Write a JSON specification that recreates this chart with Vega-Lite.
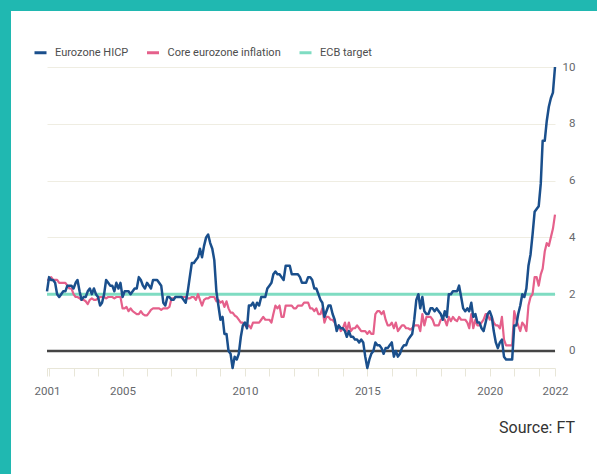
{
  "$schema": "https://vega.github.io/schema/vega-lite/v6.json",
  "padding": 0,
  "background": "white",
  "spacing": 0,
  "bounds": "flush",
  "align": "each",
  "config": {
    "view": {"stroke": null},
    "font": "Roboto",
    "axisX": {"domainColor": "#e8e6d8", "tickColor": "#e8e6d8", "tickSize": 8, "labelPadding": 9, "labelColor": "#66686c", "labelFontSize": 11.5, "labelFont": "Roboto", "grid": false, "labelOverlap": false, "labelFlush": false},
    "axisY": {"grid": true, "gridColor": "#efede2", "domain": false, "ticks": false, "tickSize": 0, "labelPadding": 20, "labelAlign": "right", "labelColor": "#66686c", "labelFontSize": 11.5, "labelFont": "Roboto"}
  },
  "vconcat": [
    {"width": 597, "height": 11, "view": {"fill": "#20b8b1", "stroke": null}, "data": {"values": [{}]}, "mark": {"type": "point", "opacity": 0}},
    {
      "spacing": 36, "bounds": "flush", "align": "each",
      "hconcat": [
        {"width": 11, "height": 463, "view": {"fill": "#20b8b1", "stroke": null}, "data": {"values": [{}]}, "mark": {"type": "point", "opacity": 0}},
        {
          "spacing": 0, "bounds": "flush", "align": "each",
          "vconcat": [
            {"width": 508, "height": 56, "data": {"values": [{}]}, "mark": {"type": "point", "opacity": 0}},
            {
              "width": 508, "height": 301,
              "title": {"text": "Source: FT", "orient": "bottom", "anchor": "end", "font": "Roboto", "fontSize": 16, "fontWeight": "normal", "color": "#333333", "offset": 23},
              "data": {"values": [
{"date":"2001-12","hicp":2.1,"core":2.5},
{"date":"2002-01","hicp":2.6,"core":2.5},{"date":"2002-02","hicp":2.5,"core":2.6},{"date":"2002-03","hicp":2.5,"core":2.5},{"date":"2002-04","hicp":2.4,"core":2.5},{"date":"2002-05","hicp":2.0,"core":2.5},{"date":"2002-06","hicp":1.9,"core":2.4},{"date":"2002-07","hicp":2.0,"core":2.4},{"date":"2002-08","hicp":2.1,"core":2.4},{"date":"2002-09","hicp":2.1,"core":2.4},{"date":"2002-10","hicp":2.3,"core":2.3},{"date":"2002-11","hicp":2.3,"core":2.2},{"date":"2002-12","hicp":2.3,"core":2.2},
{"date":"2003-01","hicp":2.2,"core":2.0},{"date":"2003-02","hicp":2.4,"core":1.9},{"date":"2003-03","hicp":2.5,"core":1.9},{"date":"2003-04","hicp":2.1,"core":1.85},{"date":"2003-05","hicp":1.8,"core":1.8},{"date":"2003-06","hicp":1.9,"core":1.8},{"date":"2003-07","hicp":1.9,"core":1.75},{"date":"2003-08","hicp":2.1,"core":1.65},{"date":"2003-09","hicp":2.2,"core":1.8},{"date":"2003-10","hicp":2.0,"core":1.85},{"date":"2003-11","hicp":2.2,"core":1.8},{"date":"2003-12","hicp":2.0,"core":1.8},
{"date":"2004-01","hicp":1.9,"core":1.85},{"date":"2004-02","hicp":1.6,"core":1.9},{"date":"2004-03","hicp":1.7,"core":1.9},{"date":"2004-04","hicp":2.0,"core":1.9},{"date":"2004-05","hicp":2.5,"core":1.85},{"date":"2004-06","hicp":2.4,"core":1.9},{"date":"2004-07","hicp":2.3,"core":1.9},{"date":"2004-08","hicp":2.3,"core":1.9},{"date":"2004-09","hicp":2.1,"core":1.85},{"date":"2004-10","hicp":2.4,"core":1.9},{"date":"2004-11","hicp":2.2,"core":1.9},{"date":"2004-12","hicp":2.4,"core":1.9},
{"date":"2005-01","hicp":1.9,"core":1.5},{"date":"2005-02","hicp":2.1,"core":1.5},{"date":"2005-03","hicp":2.1,"core":1.55},{"date":"2005-04","hicp":2.1,"core":1.4},{"date":"2005-05","hicp":2.0,"core":1.5},{"date":"2005-06","hicp":2.1,"core":1.4},{"date":"2005-07","hicp":2.2,"core":1.35},{"date":"2005-08","hicp":2.2,"core":1.3},{"date":"2005-09","hicp":2.6,"core":1.3},{"date":"2005-10","hicp":2.5,"core":1.4},{"date":"2005-11","hicp":2.3,"core":1.3},{"date":"2005-12","hicp":2.2,"core":1.25},
{"date":"2006-01","hicp":2.4,"core":1.25},{"date":"2006-02","hicp":2.3,"core":1.35},{"date":"2006-03","hicp":2.2,"core":1.45},{"date":"2006-04","hicp":2.5,"core":1.5},{"date":"2006-05","hicp":2.5,"core":1.5},{"date":"2006-06","hicp":2.5,"core":1.5},{"date":"2006-07","hicp":2.4,"core":1.5},{"date":"2006-08","hicp":2.3,"core":1.45},{"date":"2006-09","hicp":1.7,"core":1.5},{"date":"2006-10","hicp":1.6,"core":1.5},{"date":"2006-11","hicp":1.9,"core":1.5},{"date":"2006-12","hicp":1.9,"core":1.55},
{"date":"2007-01","hicp":1.8,"core":1.85},{"date":"2007-02","hicp":1.8,"core":1.85},{"date":"2007-03","hicp":1.9,"core":1.9},{"date":"2007-04","hicp":1.9,"core":1.9},{"date":"2007-05","hicp":1.9,"core":1.9},{"date":"2007-06","hicp":1.9,"core":1.9},{"date":"2007-07","hicp":1.8,"core":1.9},{"date":"2007-08","hicp":1.7,"core":1.9},{"date":"2007-09","hicp":2.1,"core":1.85},{"date":"2007-10","hicp":2.6,"core":1.85},{"date":"2007-11","hicp":3.1,"core":1.9},{"date":"2007-12","hicp":3.1,"core":1.9},
{"date":"2008-01","hicp":3.2,"core":1.8},{"date":"2008-02","hicp":3.3,"core":2.0},{"date":"2008-03","hicp":3.6,"core":1.8},{"date":"2008-04","hicp":3.3,"core":1.6},{"date":"2008-05","hicp":3.7,"core":1.8},{"date":"2008-06","hicp":4.0,"core":1.85},{"date":"2008-07","hicp":4.1,"core":1.85},{"date":"2008-08","hicp":3.8,"core":1.9},{"date":"2008-09","hicp":3.6,"core":1.9},{"date":"2008-10","hicp":3.2,"core":1.9},{"date":"2008-11","hicp":2.1,"core":1.75},{"date":"2008-12","hicp":1.6,"core":1.8},
{"date":"2009-01","hicp":1.1,"core":1.7},{"date":"2009-02","hicp":1.2,"core":1.75},{"date":"2009-03","hicp":0.6,"core":1.55},{"date":"2009-04","hicp":0.6,"core":1.75},{"date":"2009-05","hicp":0.0,"core":1.5},{"date":"2009-06","hicp":-0.1,"core":1.35},{"date":"2009-07","hicp":-0.6,"core":1.35},{"date":"2009-08","hicp":-0.2,"core":1.25},{"date":"2009-09","hicp":-0.3,"core":1.2},{"date":"2009-10","hicp":-0.1,"core":1.1},{"date":"2009-11","hicp":0.5,"core":1.0},{"date":"2009-12","hicp":0.9,"core":1.0},
{"date":"2010-01","hicp":1.0,"core":0.9},{"date":"2010-02","hicp":0.8,"core":0.85},{"date":"2010-03","hicp":1.6,"core":0.9},{"date":"2010-04","hicp":1.6,"core":0.8},{"date":"2010-05","hicp":1.7,"core":1.0},{"date":"2010-06","hicp":1.5,"core":1.0},{"date":"2010-07","hicp":1.7,"core":1.0},{"date":"2010-08","hicp":1.6,"core":1.0},{"date":"2010-09","hicp":1.9,"core":1.1},{"date":"2010-10","hicp":1.9,"core":1.2},{"date":"2010-11","hicp":1.9,"core":1.1},{"date":"2010-12","hicp":2.2,"core":1.1},
{"date":"2011-01","hicp":2.3,"core":1.1},{"date":"2011-02","hicp":2.4,"core":1.0},{"date":"2011-03","hicp":2.7,"core":1.3},{"date":"2011-04","hicp":2.8,"core":1.6},{"date":"2011-05","hicp":2.7,"core":1.5},{"date":"2011-06","hicp":2.7,"core":1.6},{"date":"2011-07","hicp":2.6,"core":1.2},{"date":"2011-08","hicp":2.5,"core":1.2},{"date":"2011-09","hicp":3.0,"core":1.6},{"date":"2011-10","hicp":3.0,"core":1.6},{"date":"2011-11","hicp":3.0,"core":1.6},{"date":"2011-12","hicp":2.7,"core":1.6},
{"date":"2012-01","hicp":2.7,"core":1.5},{"date":"2012-02","hicp":2.7,"core":1.5},{"date":"2012-03","hicp":2.7,"core":1.6},{"date":"2012-04","hicp":2.6,"core":1.6},{"date":"2012-05","hicp":2.4,"core":1.6},{"date":"2012-06","hicp":2.4,"core":1.7},{"date":"2012-07","hicp":2.4,"core":1.7},{"date":"2012-08","hicp":2.6,"core":1.7},{"date":"2012-09","hicp":2.6,"core":1.5},{"date":"2012-10","hicp":2.5,"core":1.5},{"date":"2012-11","hicp":2.2,"core":1.4},{"date":"2012-12","hicp":2.2,"core":1.5},
{"date":"2013-01","hicp":2.0,"core":1.3},{"date":"2013-02","hicp":1.8,"core":1.3},{"date":"2013-03","hicp":1.7,"core":1.5},{"date":"2013-04","hicp":1.2,"core":1.0},{"date":"2013-05","hicp":1.4,"core":1.2},{"date":"2013-06","hicp":1.6,"core":1.2},{"date":"2013-07","hicp":1.6,"core":1.1},{"date":"2013-08","hicp":1.3,"core":1.1},{"date":"2013-09","hicp":1.1,"core":1.0},{"date":"2013-10","hicp":0.7,"core":0.8},{"date":"2013-11","hicp":0.9,"core":0.9},{"date":"2013-12","hicp":0.8,"core":0.7},
{"date":"2014-01","hicp":0.8,"core":0.8},{"date":"2014-02","hicp":0.7,"core":1.0},{"date":"2014-03","hicp":0.5,"core":0.7},{"date":"2014-04","hicp":0.7,"core":1.0},{"date":"2014-05","hicp":0.5,"core":0.7},{"date":"2014-06","hicp":0.5,"core":0.8},{"date":"2014-07","hicp":0.4,"core":0.8},{"date":"2014-08","hicp":0.4,"core":0.9},{"date":"2014-09","hicp":0.3,"core":0.8},{"date":"2014-10","hicp":0.4,"core":0.7},{"date":"2014-11","hicp":0.3,"core":0.7},{"date":"2014-12","hicp":-0.2,"core":0.7},
{"date":"2015-01","hicp":-0.6,"core":0.6},{"date":"2015-02","hicp":-0.3,"core":0.7},{"date":"2015-03","hicp":-0.1,"core":0.6},{"date":"2015-04","hicp":0.0,"core":0.6},{"date":"2015-05","hicp":0.3,"core":1.3},{"date":"2015-06","hicp":0.2,"core":1.4},{"date":"2015-07","hicp":0.2,"core":1.4},{"date":"2015-08","hicp":0.1,"core":1.3},{"date":"2015-09","hicp":-0.1,"core":1.4},{"date":"2015-10","hicp":0.1,"core":1.1},{"date":"2015-11","hicp":0.1,"core":0.9},{"date":"2015-12","hicp":0.2,"core":0.9},
{"date":"2016-01","hicp":0.3,"core":1.0},{"date":"2016-02","hicp":-0.2,"core":0.8},{"date":"2016-03","hicp":0.0,"core":1.0},{"date":"2016-04","hicp":-0.2,"core":0.7},{"date":"2016-05","hicp":-0.1,"core":0.8},{"date":"2016-06","hicp":0.1,"core":0.9},{"date":"2016-07","hicp":0.2,"core":0.9},{"date":"2016-08","hicp":0.2,"core":0.8},{"date":"2016-09","hicp":0.4,"core":0.8},{"date":"2016-10","hicp":0.5,"core":0.75},{"date":"2016-11","hicp":0.6,"core":0.8},{"date":"2016-12","hicp":1.1,"core":0.9},
{"date":"2017-01","hicp":1.8,"core":0.9},{"date":"2017-02","hicp":2.0,"core":0.9},{"date":"2017-03","hicp":1.5,"core":0.7},{"date":"2017-04","hicp":1.9,"core":1.3},{"date":"2017-05","hicp":1.4,"core":0.9},{"date":"2017-06","hicp":1.3,"core":1.2},{"date":"2017-07","hicp":1.3,"core":1.2},{"date":"2017-08","hicp":1.5,"core":1.2},{"date":"2017-09","hicp":1.5,"core":1.1},{"date":"2017-10","hicp":1.4,"core":0.9},{"date":"2017-11","hicp":1.5,"core":0.9},{"date":"2017-12","hicp":1.4,"core":0.9},
{"date":"2018-01","hicp":1.3,"core":1.1},{"date":"2018-02","hicp":1.1,"core":1.15},{"date":"2018-03","hicp":1.4,"core":1.1},{"date":"2018-04","hicp":1.2,"core":0.9},{"date":"2018-05","hicp":2.0,"core":1.2},{"date":"2018-06","hicp":2.0,"core":1.05},{"date":"2018-07","hicp":2.1,"core":1.2},{"date":"2018-08","hicp":2.1,"core":1.1},{"date":"2018-09","hicp":2.1,"core":1.05},{"date":"2018-10","hicp":2.3,"core":1.2},{"date":"2018-11","hicp":1.9,"core":1.1},{"date":"2018-12","hicp":1.5,"core":1.1},
{"date":"2019-01","hicp":1.4,"core":1.1},{"date":"2019-02","hicp":1.5,"core":1.0},{"date":"2019-03","hicp":1.4,"core":0.8},{"date":"2019-04","hicp":1.7,"core":1.3},{"date":"2019-05","hicp":1.2,"core":0.8},{"date":"2019-06","hicp":1.3,"core":1.1},{"date":"2019-07","hicp":1.0,"core":0.9},{"date":"2019-08","hicp":1.0,"core":0.9},{"date":"2019-09","hicp":0.8,"core":1.0},{"date":"2019-10","hicp":0.7,"core":1.1},{"date":"2019-11","hicp":1.0,"core":1.3},{"date":"2019-12","hicp":1.3,"core":1.3},
{"date":"2020-01","hicp":1.4,"core":1.1},{"date":"2020-02","hicp":1.2,"core":1.2},{"date":"2020-03","hicp":0.7,"core":1.0},{"date":"2020-04","hicp":0.3,"core":0.9},{"date":"2020-05","hicp":0.1,"core":0.9},{"date":"2020-06","hicp":0.3,"core":0.8},{"date":"2020-07","hicp":0.4,"core":1.2},{"date":"2020-08","hicp":-0.2,"core":0.4},{"date":"2020-09","hicp":-0.3,"core":0.2},{"date":"2020-10","hicp":-0.3,"core":0.2},{"date":"2020-11","hicp":-0.3,"core":0.2},{"date":"2020-12","hicp":-0.3,"core":0.2},
{"date":"2021-01","hicp":0.9,"core":1.4},{"date":"2021-02","hicp":0.9,"core":1.1},{"date":"2021-03","hicp":1.3,"core":0.9},{"date":"2021-04","hicp":1.6,"core":0.7},{"date":"2021-05","hicp":2.0,"core":1.0},{"date":"2021-06","hicp":1.9,"core":0.9},{"date":"2021-07","hicp":2.2,"core":0.7},{"date":"2021-08","hicp":3.0,"core":1.6},{"date":"2021-09","hicp":3.4,"core":1.9},{"date":"2021-10","hicp":4.1,"core":2.0},{"date":"2021-11","hicp":4.9,"core":2.6},{"date":"2021-12","hicp":5.0,"core":2.6},
{"date":"2022-01","hicp":5.1,"core":2.3},{"date":"2022-02","hicp":5.9,"core":2.7},{"date":"2022-03","hicp":7.4,"core":2.9},{"date":"2022-04","hicp":7.4,"core":3.5},{"date":"2022-05","hicp":8.1,"core":3.8},{"date":"2022-06","hicp":8.6,"core":3.7},{"date":"2022-07","hicp":8.9,"core":4.0},{"date":"2022-08","hicp":9.1,"core":4.3},{"date":"2022-09","hicp":10.0,"core":4.8}
              ]},
              "layer": [
                {
                  "data": {"values": [{"series": "ECB target", "value": 2}]},
                  "mark": {"type": "rule", "strokeWidth": 3},
                  "encoding": {
                    "y": {"field": "value", "type": "quantitative", "scale": {"domain": [-0.6, 10], "nice": false, "zero": false}, "axis": {"orient": "right", "values": [0, 2, 4, 6, 8, 10], "title": null}},
                    "color": {"field": "series", "type": "nominal",
                      "scale": {"domain": ["Eurozone HICP", "Core eurozone inflation", "ECB target"], "range": ["#1a4f8c", "#e5608b", "#7fdcc2"]},
                      "legend": {"orient": "none", "legendX": 33, "legendY": 45, "direction": "horizontal", "title": null, "symbolType": "stroke", "symbolStrokeWidth": 3, "symbolSize": 144, "labelFontSize": 11, "labelFont": "Roboto", "labelColor": "#4d4d4d", "labelOffset": 7, "columnPadding": 11.5}}
                  }
                },
                {
                  "data": {"values": [{"value": 0}]},
                  "mark": {"type": "rule", "strokeWidth": 2.5, "color": "#454545"},
                  "encoding": {
                    "y": {"field": "value", "type": "quantitative", "scale": {"domain": [-0.6, 10], "nice": false, "zero": false}, "axis": {"orient": "right", "values": [0, 2, 4, 6, 8, 10], "title": null}}
                  }
                },
                {
                  "mark": {"type": "line", "strokeWidth": 2.2, "strokeJoin": "round"},
                  "encoding": {
                    "x": {"field": "date", "type": "temporal",
                      "scale": {"type": "utc", "domain": [{"year": 2001, "month": 12, "date": 1, "utc": true}, {"year": 2022, "month": 9, "date": 1, "utc": true}]},
                      "axis": {"title": null, "labelExpr": "utcmonth(datum.value) == 11 ? '2001' : utcmonth(datum.value) == 8 ? '2022' : (utcyear(datum.value) % 5 == 0 ? '' + utcyear(datum.value) : '')",
                        "values": [{"year": 2001, "month": 12, "date": 1, "utc": true}, {"year": 2002, "utc": true}, {"year": 2003, "utc": true}, {"year": 2004, "utc": true}, {"year": 2005, "utc": true}, {"year": 2006, "utc": true}, {"year": 2007, "utc": true}, {"year": 2008, "utc": true}, {"year": 2009, "utc": true}, {"year": 2010, "utc": true}, {"year": 2011, "utc": true}, {"year": 2012, "utc": true}, {"year": 2013, "utc": true}, {"year": 2014, "utc": true}, {"year": 2015, "utc": true}, {"year": 2016, "utc": true}, {"year": 2017, "utc": true}, {"year": 2018, "utc": true}, {"year": 2019, "utc": true}, {"year": 2020, "utc": true}, {"year": 2021, "utc": true}, {"year": 2022, "utc": true}, {"year": 2022, "month": 9, "date": 1, "utc": true}]}},
                    "y": {"field": "core", "type": "quantitative", "scale": {"domain": [-0.6, 10], "nice": false, "zero": false}, "axis": {"orient": "right", "values": [0, 2, 4, 6, 8, 10], "title": null}},
                    "color": {"datum": "Core eurozone inflation", "type": "nominal"}
                  }
                },
                {
                  "mark": {"type": "line", "strokeWidth": 2.5, "strokeJoin": "round"},
                  "encoding": {
                    "x": {"field": "date", "type": "temporal",
                      "scale": {"type": "utc", "domain": [{"year": 2001, "month": 12, "date": 1, "utc": true}, {"year": 2022, "month": 9, "date": 1, "utc": true}]},
                      "axis": {"title": null, "labelExpr": "utcmonth(datum.value) == 11 ? '2001' : utcmonth(datum.value) == 8 ? '2022' : (utcyear(datum.value) % 5 == 0 ? '' + utcyear(datum.value) : '')",
                        "values": [{"year": 2001, "month": 12, "date": 1, "utc": true}, {"year": 2002, "utc": true}, {"year": 2003, "utc": true}, {"year": 2004, "utc": true}, {"year": 2005, "utc": true}, {"year": 2006, "utc": true}, {"year": 2007, "utc": true}, {"year": 2008, "utc": true}, {"year": 2009, "utc": true}, {"year": 2010, "utc": true}, {"year": 2011, "utc": true}, {"year": 2012, "utc": true}, {"year": 2013, "utc": true}, {"year": 2014, "utc": true}, {"year": 2015, "utc": true}, {"year": 2016, "utc": true}, {"year": 2017, "utc": true}, {"year": 2018, "utc": true}, {"year": 2019, "utc": true}, {"year": 2020, "utc": true}, {"year": 2021, "utc": true}, {"year": 2022, "utc": true}, {"year": 2022, "month": 9, "date": 1, "utc": true}]}},
                    "y": {"field": "hicp", "type": "quantitative", "scale": {"domain": [-0.6, 10], "nice": false, "zero": false}, "axis": {"orient": "right", "values": [0, 2, 4, 6, 8, 10], "title": null}},
                    "color": {"datum": "Eurozone HICP", "type": "nominal"}
                  }
                }
              ]
            }
          ]
        }
      ]
    }
  ]
}
